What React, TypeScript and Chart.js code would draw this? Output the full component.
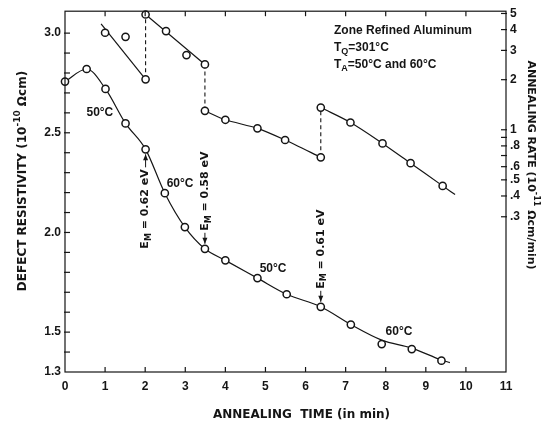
import { useEffect, useRef } from 'react';
import { Chart, registerables } from 'chart.js';

Chart.register(...registerables);

// Defect resistivity measurements (left axis, 10^-10 Ωcm) against annealing time (min)
const resistTime = [0, 0.54, 1.01, 1.51, 2.01, 2.49, 2.99, 3.49, 4.0, 4.8, 5.53, 6.38, 7.13, 7.9, 8.65, 9.39];
const resistValue = [2.757, 2.82, 2.72, 2.547, 2.417, 2.197, 2.027, 1.918, 1.86, 1.771, 1.69, 1.627, 1.538, 1.44, 1.415, 1.357];

// Smooth curve drawn through the resistivity data
const resistCurveTime = [0, 0.54, 1.01, 1.51, 2.01, 2.49, 2.99, 3.49, 4.0, 4.8, 5.53, 6.38, 7.13, 7.9, 8.65, 9.39, 9.6];
const resistCurveValue = [2.757, 2.82, 2.72, 2.547, 2.417, 2.197, 2.027, 1.918, 1.86, 1.771, 1.69, 1.627, 1.538, 1.46, 1.42, 1.36, 1.347];

// Annealing rate measurements (right axis, 10^-11 Ωcm/min)
const rateTime = [1.0, 1.51, 2.01, 2.01, 2.52, 3.03, 3.49, 3.49, 4.0, 4.8, 5.49, 6.38, 6.38, 7.12, 7.92, 8.62, 9.42];
const rateValue = [3.83, 3.62, 2.01, 4.93, 3.92, 2.81, 2.47, 1.3, 1.148, 1.02, 0.868, 0.683, 1.36, 1.106, 0.828, 0.63, 0.46];

// Rate curves for each annealing step
const rateFitATime = [0.9, 2.01];
const rateFitAValue = [4.33, 2.01];
const rateFitBTime = [2.01, 3.49];
const rateFitBValue = [4.93, 2.47];
const rateFitCTime = [3.49, 4.0, 4.8, 5.49, 6.38];
const rateFitCValue = [1.3, 1.148, 1.02, 0.868, 0.683];
const rateFitDTime = [6.38, 7.12, 7.92, 8.62, 9.42, 9.73];
const rateFitDValue = [1.36, 1.106, 0.828, 0.63, 0.46, 0.408];

// Temperature changes: the rate jumps between these values
const jumpTime = [2.01, 3.49, 6.38];
const jumpFrom = [2.01, 2.47, 0.683];
const jumpTo = [4.93, 1.3, 1.36];

// Annealing temperature labels along the resistivity curve
const tempText = ['50°C', '60°C', '50°C', '60°C'];
const tempTime = [0.87, 2.87, 5.19, 8.33];
const tempValue = [2.6, 2.245, 1.82, 1.5];

// Migration energies marked at the temperature changes
const emText = ['0.62 eV', '0.58 eV', '0.61 eV'];
const emTime = [2.01, 3.49, 6.38];
const emValue = [2.417, 1.918, 1.627];
const emBelow = [true, false, false];

// Axis ticks
const leftTickValues = [1.3, 1.5, 2.0, 2.5, 3.0];
const rightTickValues = [0.3, 0.4, 0.5, 0.6, 0.8, 1, 2, 3, 4, 5];
const rightTickLabels = ['.3', '.4', '.5', '.6', '.8', '1', '2', '3', '4', '5'];
const rightMinorTicks = [0.7, 0.9];

const INK = '#151515';
const SANS = '"Liberation Sans", Arial, sans-serif';
const WIDE = '"DejaVu Sans", sans-serif';

type Seg = { t: string; s?: 'sub' | 'sup' };

function richText(
  ctx: CanvasRenderingContext2D,
  segs: Seg[],
  x: number,
  y: number,
  size: number,
  family: string,
  angle: number,
  align: 'left' | 'center' | 'right'
) {
  ctx.save();
  ctx.translate(x, y);
  ctx.rotate(angle);
  ctx.textBaseline = 'middle';
  ctx.textAlign = 'left';
  const fontFor = (s?: string) => `bold ${s ? Math.round(size * 0.72) : size}px ${family}`;
  let total = 0;
  const widths = segs.map((sg) => {
    ctx.font = fontFor(sg.s);
    const w = ctx.measureText(sg.t).width;
    total += w;
    return w;
  });
  let cx = align === 'left' ? 0 : align === 'center' ? -total / 2 : -total;
  segs.forEach((sg, i) => {
    ctx.font = fontFor(sg.s);
    const dy = sg.s === 'sub' ? size * 0.32 : sg.s === 'sup' ? -size * 0.42 : 0;
    ctx.fillText(sg.t, cx, dy);
    cx += widths[i];
  });
  ctx.restore();
}

function seg(ctx: CanvasRenderingContext2D, x0: number, y0: number, x1: number, y1: number) {
  ctx.beginPath();
  ctx.moveTo(x0, y0);
  ctx.lineTo(x1, y1);
  ctx.stroke();
}

function arrow(ctx: CanvasRenderingContext2D, x: number, y0: number, y1: number) {
  seg(ctx, x, y0, x, y1);
  const dir = Math.sign(y1 - y0);
  ctx.beginPath();
  ctx.moveTo(x, y1);
  ctx.lineTo(x - 2.5, y1 - dir * 6);
  ctx.lineTo(x + 2.5, y1 - dir * 6);
  ctx.closePath();
  ctx.fill();
}

const decorations = {
  id: 'decorations',
  afterDraw(chart: any) {
    const { ctx, chartArea: a, scales } = chart;
    const sx = scales.x;
    const sy = scales.y;
    const sr = scales.y1;
    ctx.save();
    ctx.strokeStyle = INK;
    ctx.fillStyle = INK;
    ctx.lineWidth = 1.2;

    // frame
    ctx.strokeRect(a.left, a.top, a.right - a.left, a.bottom - a.top);

    // inward tick marks
    for (let t = 1; t < 11; t++) {
      const px = sx.getPixelForValue(t);
      seg(ctx, px, a.bottom, px, a.bottom - 5);
      seg(ctx, px, a.top, px, a.top + 5);
    }
    for (let k = 14; k <= 30; k++) {
      const py = sy.getPixelForValue(k / 10);
      seg(ctx, a.left - 1, py, a.left + 5, py);
    }
    [...rightTickValues, ...rightMinorTicks].forEach((v) => {
      const py = sr.getPixelForValue(v);
      if (py > a.top + 2) seg(ctx, a.right - 5, py, a.right + 1, py);
    });

    // axis titles
    richText(ctx, [{ t: 'ANNEALING  TIME (in min)' }], (a.left + a.right) / 2 + 16, 415, 12, WIDE, 0, 'center');
    richText(
      ctx,
      [{ t: 'DEFECT RESISTIVITY (10' }, { t: '-10', s: 'sup' }, { t: ' Ωcm)' }],
      23,
      181,
      12,
      WIDE,
      -Math.PI / 2,
      'center'
    );
    richText(
      ctx,
      [{ t: 'ANNEALING RATE (10' }, { t: '-11', s: 'sup' }, { t: ' Ωcm/min)' }],
      531,
      165,
      11,
      WIDE,
      Math.PI / 2,
      'center'
    );

    // sample description
    richText(ctx, [{ t: 'Zone Refined Aluminum' }], 334, 31, 12, SANS, 0, 'left');
    richText(ctx, [{ t: 'T' }, { t: 'Q', s: 'sub' }, { t: '=301°C' }], 334, 48, 12, SANS, 0, 'left');
    richText(ctx, [{ t: 'T' }, { t: 'A', s: 'sub' }, { t: '=50°C and 60°C' }], 334, 65, 12, SANS, 0, 'left');

    // temperature labels
    tempText.forEach((txt, i) => {
      richText(ctx, [{ t: txt }], sx.getPixelForValue(tempTime[i]), sy.getPixelForValue(tempValue[i]), 12, SANS, 0, 'center');
    });

    // migration energies with arrows to the measured points
    ctx.lineWidth = 1;
    emText.forEach((txt, i) => {
      const px = sx.getPixelForValue(emTime[i]);
      const py = sy.getPixelForValue(emValue[i]);
      const segs: Seg[] = [{ t: 'E' }, { t: 'M', s: 'sub' }, { t: ' = ' + txt }];
      if (emBelow[i]) {
        arrow(ctx, px, py + 18, py + 5);
        richText(ctx, segs, px, py + 20, 11, WIDE, -Math.PI / 2, 'right');
      } else {
        arrow(ctx, px, py - 16, py - 5);
        richText(ctx, segs, px, py - 18, 11, WIDE, -Math.PI / 2, 'left');
      }
    });
    ctx.restore();
  },
};

const pts = (xs: number[], ys: number[]) => xs.map((x, i) => ({ x, y: ys[i] }));

export default function App() {
  const ref = useRef<HTMLCanvasElement | null>(null);

  useEffect(() => {
    if (!ref.current) return;
    const lineStyle = {
      showLine: true,
      pointRadius: 0,
      borderColor: INK,
      borderWidth: 1.2,
      fill: false,
      order: 2,
      clip: false as any,
    };
    const markerStyle = {
      showLine: false,
      pointRadius: 3.6,
      pointBorderWidth: 1.5,
      pointBackgroundColor: '#ffffff',
      pointBorderColor: INK,
      order: 0,
      clip: false as any,
    };
    const jumps = jumpTime.map((t, i) => ({
      ...lineStyle,
      label: 'jump' + i,
      yAxisID: 'y1',
      borderDash: [4, 3],
      borderWidth: 1.1,
      data: [
        { x: t, y: jumpFrom[i] },
        { x: t, y: jumpTo[i] },
      ],
    }));

    const chart = new Chart(ref.current, {
      type: 'scatter',
      data: {
        datasets: [
          { ...markerStyle, label: 'Defect resistivity', yAxisID: 'y', data: pts(resistTime, resistValue) },
          { ...markerStyle, label: 'Annealing rate', yAxisID: 'y1', data: pts(rateTime, rateValue) },
          { ...lineStyle, label: 'resistivity curve', yAxisID: 'y', cubicInterpolationMode: 'monotone', data: pts(resistCurveTime, resistCurveValue) },
          { ...lineStyle, label: 'rate A', yAxisID: 'y1', data: pts(rateFitATime, rateFitAValue) },
          { ...lineStyle, label: 'rate B', yAxisID: 'y1', data: pts(rateFitBTime, rateFitBValue) },
          { ...lineStyle, label: 'rate C', yAxisID: 'y1', tension: 0.25, data: pts(rateFitCTime, rateFitCValue) },
          { ...lineStyle, label: 'rate D', yAxisID: 'y1', cubicInterpolationMode: 'monotone', data: pts(rateFitDTime, rateFitDValue) },
          ...jumps,
        ] as any,
      },
      options: {
        responsive: false,
        animation: false,
        layout: { padding: { top: 10, left: 0, right: 0, bottom: 0 } },
        plugins: { legend: { display: false }, tooltip: { enabled: false } },
        scales: {
          x: {
            type: 'linear',
            position: 'bottom',
            min: 0,
            max: 11,
            grid: { display: false, drawTicks: false },
            border: { display: false },
            ticks: { stepSize: 1, padding: 7, color: INK, font: { family: SANS, size: 12, weight: 'bold' } },
            afterFit: (s: any) => {
              s.height = 55;
            },
          },
          y: {
            type: 'linear',
            position: 'left',
            min: 1.3,
            max: 3.11,
            grid: { display: false, drawTicks: false },
            border: { display: false },
            afterBuildTicks: (s: any) => {
              s.ticks = leftTickValues.map((v) => ({ value: v }));
            },
            ticks: {
              autoSkip: false,
              padding: 4,
              color: INK,
              font: { family: SANS, size: 12, weight: 'bold' },
              callback: (v: any) => Number(v).toFixed(1),
            },
            afterFit: (s: any) => {
              s.width = 65;
            },
          },
          y1: {
            type: 'logarithmic',
            position: 'right',
            min: 0.035,
            max: 5.16,
            grid: { display: false, drawTicks: false },
            border: { display: false },
            afterBuildTicks: (s: any) => {
              s.ticks = rightTickValues.map((v) => ({ value: v }));
            },
            ticks: {
              autoSkip: false,
              padding: 4,
              color: INK,
              font: { family: SANS, size: 12, weight: 'bold' },
              callback: (v: any) => {
                const i = rightTickValues.findIndex((r) => Math.abs(r - Number(v)) < 1e-6);
                return i >= 0 ? rightTickLabels[i] : '';
              },
            },
            afterFit: (s: any) => {
              s.width = 39;
            },
          },
        },
      } as any,
      plugins: [decorations],
    });
    return () => chart.destroy();
  }, []);

  return (
    <div style={{ position: 'fixed', left: 0, top: 0, width: 545, height: 427, background: '#ffffff' }}>
      <canvas ref={ref} width={545} height={427} style={{ display: 'block' }} />
    </div>
  );
}
